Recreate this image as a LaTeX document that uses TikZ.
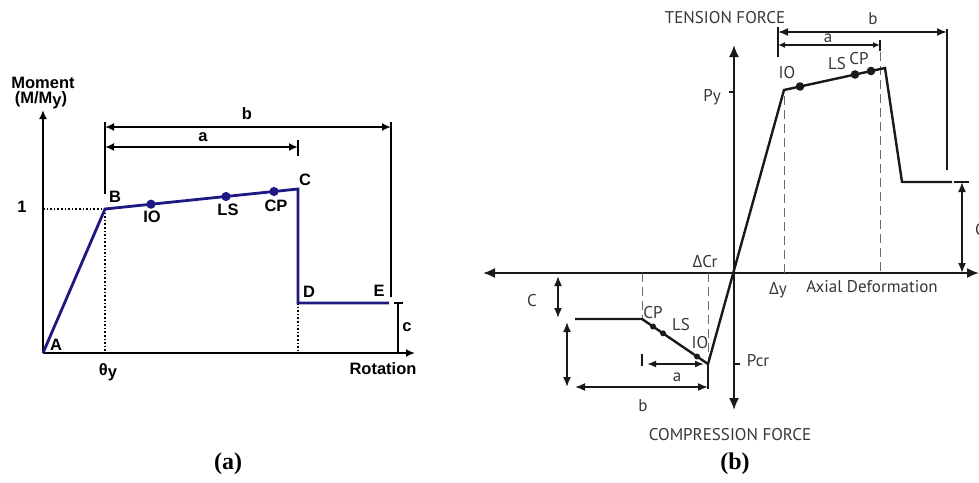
\documentclass[tikz,border=0pt]{standalone}
\usepackage{fontspec}
\usetikzlibrary{arrows.meta}
\newfontfamily\arialb{Liberation Sans}[BoldFont={* Bold}]
\newfontfamily\myr{PT Sans}
\newfontfamily\myrg{Open Sans}
\newfontfamily\timesb{Liberation Serif}[BoldFont={* Bold}]
\definecolor{navy}{RGB}{30,24,130}
\definecolor{ink}{RGB}{25,25,25}
\definecolor{txtb}{RGB}{55,55,55}
\tikzset{
  labA/.style={font=\arialb\bfseries\fontsize{16.5}{17}\selectfont, inner sep=0pt},
  labB/.style={font=\myr\fontsize{17}{18}\selectfont, text=txtb, inner sep=0pt},
  capt/.style={font=\timesb\bfseries\fontsize{24}{26}\selectfont, inner sep=0pt},
  axA/.style={line width=2.4pt, black},
  curveA/.style={line width=2.8pt, navy, line join=miter},
  dimA/.style={line width=1.9pt, black},
  dotA/.style={dotted, line width=1.6pt, black},
  tipA/.style={-{Latex[length=9pt,width=8pt]}},
  tipAA/.style={{Latex[length=9pt,width=8pt]}-{Latex[length=9pt,width=8pt]}},
  axB/.style={line width=1.9pt, ink},
  curveB/.style={line width=2.4pt, ink, line join=miter},
  dimB/.style={line width=1.7pt, ink},
  dashB/.style={dash pattern=on 9pt off 5pt, line width=0.9pt, ink!65},
  tipBB/.style={{Latex[length=12pt,width=10pt]}-{Latex[length=12pt,width=10pt]}},
  tipBd/.style={{Latex[length=10pt,width=8pt]}-{Latex[length=10pt,width=8pt]}},
}
\begin{document}
\begin{tikzpicture}[x=1pt,y=-1pt]
\useasboundingbox (0,0) rectangle (979,482);
%================ (a) =================
\coordinate (A) at (43,353);
\coordinate (B) at (105,209);
\coordinate (C) at (298,189);
\coordinate (D) at (298,303);
\coordinate (E) at (389,303);
\coordinate (yTop) at (43,110);
\coordinate (xEnd) at (415,353);
\coordinate (yOne) at (43,209);
\coordinate (Bax) at (105,353);
\coordinate (Dax) at (298,353);
\draw[axA, tipA] (A) -- (yTop);
\draw[axA, tipA] (A) -- (xEnd);
\draw[dotA] (yOne) -- (B);
\draw[dotA] (B) -- (Bax);
\draw[dotA] (D) -- (Dax);
% dimension lines
\coordinate (bl1) at (105,122);
\coordinate (bl2) at (105,194);
\coordinate (br1) at (391,122);
\coordinate (br2) at (391,297);
\draw[dimA] (bl1) -- (bl2);
\draw[dimA] (br1) -- (br2);
\coordinate (bA) at (105,127);
\coordinate (bB) at (391,127);
\draw[dimA, tipAA] (bA) -- (bB);
\coordinate (aA) at (105,147);
\coordinate (aB) at (298,147);
\draw[dimA, tipAA] (aA) -- (aB);
\coordinate (at1) at (298,140);
\coordinate (at2) at (298,156);
\draw[dimA] (at1) -- (at2);
\coordinate (c1) at (398,303);
\coordinate (c2) at (398,353);
\coordinate (ct1) at (394,303);
\coordinate (ct2) at (403,303);
\draw[dimA] (c1) -- (c2);
\draw[dimA] (ct1) -- (ct2);
% curve
\draw[curveA] (A) -- (B) -- (C) -- (D) -- (E);
\fill[navy] (151,204.2) circle (4.6pt) coordinate (IOa);
\fill[navy] (226,196.5) circle (4.6pt) coordinate (LSa);
\fill[navy] (274,191.5) circle (4.6pt) coordinate (CPa);
% labels
\node[labA] (tMom) at (43,83) {Moment};
\node[labA] (tMM) at (41,100) {(M/M\raisebox{-1.5pt}{y})};
\node[labA] (tOne) at (22,207) {1};
\node[labA] (tA) at (56,345) {A};
\node[labA] (tB) at (115,197) {B};
\node[labA] (tC) at (305,180) {C};
\node[labA] (tD) at (309,292) {D};
\node[labA] (tE) at (379,291) {E};
\node[labA] (tIO) at (152,217) {IO};
\node[labA] (tLS) at (228,210) {LS};
\node[labA] (tCP) at (276,206) {CP};
\node[labA] (tb) at (247,114) {b};
\node[labA] (ta) at (203,137) {a};
\node[labA] (tc) at (407,327) {c};
\node[labA] (tth) at (108,372) {θ\raisebox{-1.5pt}{y}};
\node[labA] (tRot) at (383,369) {Rotation};
\node[capt] (capa) at (228,464) {(a)};
%================ (b) =================
\coordinate (O) at (734,273);
\coordinate (vTop) at (734,45);
\coordinate (vBot) at (734,410);
\coordinate (hL) at (483,273);
\coordinate (hR) at (979,273);
\draw[axB, tipBB] (vBot) -- (vTop);
\draw[axB, tipBB] (hL) -- (hR);
% dashed guides
\coordinate (g1t) at (784,96);
\coordinate (g1b) at (784,273);
\coordinate (g2t) at (880,52);
\coordinate (g2b) at (880,273);
\coordinate (g3t) at (642,273);
\coordinate (g3b) at (642,319);
\coordinate (g4t) at (708,273);
\coordinate (g4b) at (708,360);
\draw[dashB] (g1t) -- (g1b);
\draw[dashB] (g2t) -- (g2b);
\draw[dashB] (g3t) -- (g3b);
\draw[dashB] (g4t) -- (g4b);
% top dimensions
\coordinate (tl1) at (778,27);
\coordinate (tl2) at (778,57);
\coordinate (tr1) at (947,29);
\coordinate (tr2) at (947,170);
\draw[dimB] (tl1) -- (tl2);
\draw[dimB] (tr1) -- (tr2);
\coordinate (tbA) at (778,32);
\coordinate (tbB) at (947,32);
\draw[dimB, tipBd] (tbA) -- (tbB);
\coordinate (taA) at (778,45);
\coordinate (taB) at (880,45);
\draw[dimB, {Latex[length=7pt,width=6pt]}-{Latex[length=7pt,width=6pt]}] (taA) -- (taB);
\coordinate (tat1) at (880,40);
\coordinate (tat2) at (880,51);
\draw[dimB] (tat1) -- (tat2);
% right c
\coordinate (rc1) at (962,182);
\coordinate (rc2) at (962,273);
\draw[dimB, tipBd] (rc1) -- (rc2);
\coordinate (rct1) at (954,182);
\coordinate (rct2) at (969,182);
\draw[dimB] (rct1) -- (rct2);
% ticks on vertical axis
\coordinate (py1) at (729,92);
\draw[dimB] (py1) -- (O |- py1);
\coordinate (pc1) at (740,364);
\draw[dimB] (pc1) -- (O |- pc1);
% curve
\coordinate (Pc) at (708,364);
\coordinate (Y) at (784,90);
\coordinate (Pk) at (885,68);
\coordinate (Dr) at (902,182);
\coordinate (Er) at (952,182);
\coordinate (Bc) at (642,319);
\coordinate (Ec) at (575,319);
\draw[curveB] (Ec) -- (Bc) -- (Pc) -- (Y) -- (Pk) -- (Dr) -- (Er);
\fill[ink] (800,86.5) circle (4.3pt) coordinate (IOb);
\fill[ink] (855,74.5) circle (4.3pt) coordinate (LSb);
\fill[ink] (871,71) circle (4.3pt) coordinate (CPb);
\fill[ink] (697,356.5) circle (3pt) coordinate (IOc);
\fill[ink] (663,333.3) circle (3pt) coordinate (LSc);
\fill[ink] (653,326.5) circle (3pt) coordinate (CPc);
% bottom dimensions
\coordinate (bv1) at (708,364);
\coordinate (bv2) at (708,389);
\draw[dimB] (bv1) -- (bv2);
\coordinate (baA) at (647,364);
\coordinate (baB) at (704,364);
\draw[dimB, {Latex[length=9pt,width=7pt]}-{Latex[length=9pt,width=7pt]}] (baA) -- (baB);
\coordinate (bat1) at (642,354);
\coordinate (bat2) at (642,366);
\draw[dimB] (bat1) -- (bat2);
\coordinate (bbA) at (575,387);
\coordinate (bbB) at (708,387);
\draw[dimB, tipBd] (bbA) -- (bbB);
\coordinate (lc1) at (558,276);
\coordinate (lc2) at (558,318);
\draw[dimB, tipBd] (lc1) -- (lc2);
\coordinate (lv1) at (567,322);
\coordinate (lv2) at (567,387);
\draw[dimB, tipBd] (lv1) -- (lv2);
% labels
\node[labB] (tTen) at (725,18) {TENSION FORCE};
\node[labB] (tCom) at (730,435) {COMPRESSION FORCE};
\node[labB] (tbT) at (873,19) {b};
\node[labB] (taT) at (828,38) {a};
\node[labB] (tIOb) at (787,73) {IO};
\node[labB] (tLSb) at (837,64) {LS};
\node[labB] (tCPb) at (859,59) {CP};
\node[labB] (tPy) at (712,97) {Py};
\node[labB, anchor=west] (tCr) at (975,230) {C};
\node[labB] (tDCr) at (705,262) {{\myrg Δ}Cr};
\node[labB] (tDy) at (778,290) {{\myrg Δ}y};
\node[labB] (tAx) at (872,287) {Axial Deformation};
\node[labB] (tCl) at (532,301) {C};
\node[labB] (tCPc) at (653,313) {CP};
\node[labB] (tLSc) at (681,325) {LS};
\node[labB] (tIOc) at (700,343) {IO};
\node[labB] (tPcr) at (758,361) {Pcr};
\node[labB] (tab) at (677,377) {a};
\node[labB] (tbb) at (643,406) {b};
\node[capt] (capb) at (735,464) {(b)};
\end{tikzpicture}
\end{document}
